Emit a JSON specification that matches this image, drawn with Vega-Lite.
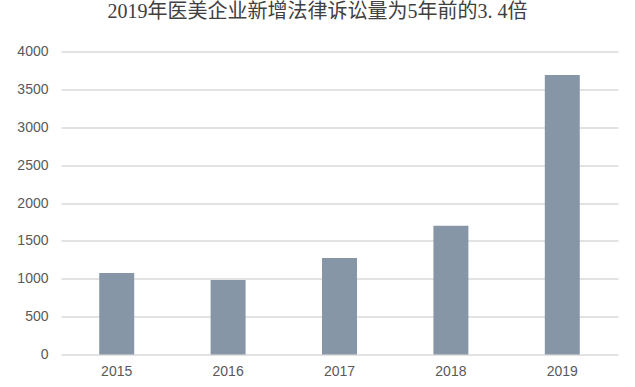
{
  "$schema": "https://vega.github.io/schema/vega-lite/v6.json",
  "width": 557,
  "height": 303,
  "autosize": {"type": "none"},
  "padding": {"left": 61, "top": 51.5, "right": 17, "bottom": 32.5},
  "background": "white",
  "title": {
    "text": "2019年医美企业新增法律诉讼量为5年前的3. 4倍",
    "font": "Liberation Serif, Noto Sans CJK SC",
    "fontSize": 20,
    "fontWeight": "normal",
    "color": "#404040",
    "anchor": "middle",
    "offset": 23,
    "dx": -22
  },
  "data": {
    "values": [
      {"year": "2015", "count": 1076},
      {"year": "2016", "count": 983},
      {"year": "2017", "count": 1274},
      {"year": "2018", "count": 1700},
      {"year": "2019", "count": 3690}
    ]
  },
  "mark": {"type": "bar", "color": "#8796a6"},
  "encoding": {
    "x": {
      "field": "year",
      "type": "nominal",
      "scale": {"paddingInner": 0.686, "paddingOuter": 0.343},
      "axis": {
        "title": null,
        "labelAngle": 0,
        "domain": false,
        "ticks": false,
        "labelPadding": 10,
        "labelFont": "Liberation Sans",
        "labelFontSize": 14,
        "labelColor": "#595959"
      }
    },
    "y": {
      "field": "count",
      "type": "quantitative",
      "scale": {"domain": [0, 4000], "nice": false},
      "axis": {
        "title": null,
        "format": "d",
        "values": [0, 500, 1000, 1500, 2000, 2500, 3000, 3500, 4000],
        "domain": false,
        "ticks": false,
        "labelPadding": 13,
        "labelFont": "Liberation Sans",
        "labelFontSize": 14,
        "labelColor": "#595959",
        "gridColor": "#d9d9d9",
        "gridWidth": 1.3
      }
    }
  },
  "config": {"view": {"stroke": null}}
}
